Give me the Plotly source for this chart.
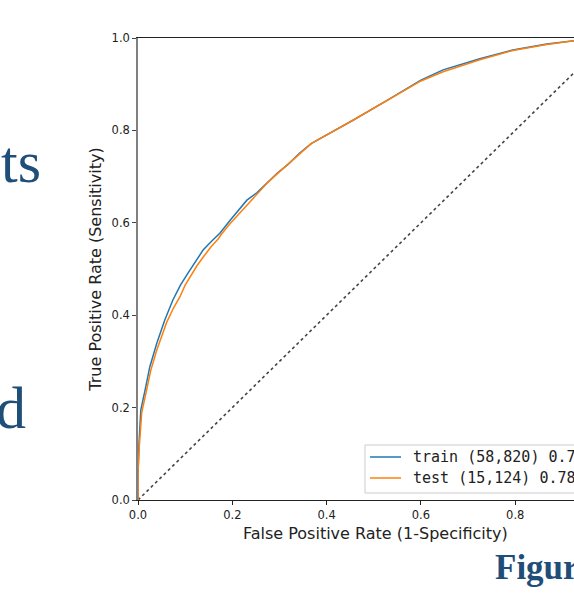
import plotly.graph_objects as go

# ROC data
train_fpr = [0, 0.0, 0.002, 0.006, 0.015, 0.025, 0.040, 0.057, 0.074, 0.090, 0.106, 0.122,
             0.138, 0.156, 0.174, 0.195, 0.216, 0.231, 0.252, 0.275, 0.295, 0.320, 0.343,
             0.368, 0.456, 0.530, 0.60, 0.647, 0.70, 0.725, 0.795, 0.867, 0.925, 1.0]
train_tpr = [0, 0.05, 0.12, 0.195, 0.238, 0.288, 0.34, 0.39, 0.433, 0.465, 0.491, 0.517,
             0.541, 0.56, 0.578, 0.605, 0.632, 0.649, 0.665, 0.688, 0.707, 0.728, 0.751,
             0.772, 0.822, 0.866, 0.909, 0.931, 0.948, 0.955, 0.974, 0.987, 0.994, 1.0]
test_fpr = [0, 0.0, 0.003, 0.008, 0.017, 0.027, 0.040, 0.061, 0.075, 0.089, 0.100, 0.110,
            0.125, 0.140, 0.155, 0.170, 0.176, 0.195, 0.216, 0.235, 0.252, 0.275, 0.295,
            0.320, 0.343, 0.368, 0.456, 0.530, 0.60, 0.647, 0.725, 0.795, 0.867, 0.925, 1.0]
test_tpr = [0, 0.06, 0.12, 0.19, 0.232, 0.28, 0.325, 0.385, 0.415, 0.44, 0.465, 0.483,
            0.507, 0.528, 0.548, 0.565, 0.574, 0.598, 0.622, 0.643, 0.661, 0.687, 0.706,
            0.728, 0.75, 0.772, 0.822, 0.866, 0.907, 0.927, 0.953, 0.973, 0.986, 0.994, 1.0]
chance_x = [0, 1]
chance_y = [0, 1]

train_label = "train (58,820) 0.784"
test_label = "test (15,124) 0.780"
x_ticks = [0.0, 0.2, 0.4, 0.6, 0.8, 1.0]
y_ticks = [0.0, 0.2, 0.4, 0.6, 0.8, 1.0]
x_title = "False Positive Rate (1-Specificity)"
y_title = "True Positive Rate (Sensitivity)"

W, H = 574, 612
L, T, B = 138, 38, 112
PW = W - L          # visible plot width
FULLW = 471.5       # pixel width of the full 0..1 x-range
PH = H - T - B

def px(xp):
    return (xp - L) / PW

def py(yp):
    return (T + PH - yp) / PH

BLUE, ORANGE = "#1f77b4", "#ff7f0e"

fig = go.Figure()
fig.add_trace(go.Scatter(x=chance_x, y=chance_y, mode="lines", showlegend=False,
                         line=dict(color="#444444", width=1.6, dash="dot")))
fig.add_trace(go.Scatter(x=train_fpr, y=train_tpr, mode="lines", name=train_label,
                         showlegend=False, line=dict(color=BLUE, width=1.5)))
fig.add_trace(go.Scatter(x=test_fpr, y=test_tpr, mode="lines", name=test_label,
                         showlegend=False, line=dict(color=ORANGE, width=1.5)))

tick_font = dict(family="DejaVu Sans", size=11.5, color="#222222")
title_font = dict(family="DejaVu Sans", size=16, color="#222222")
serif_blue = "#1f4e79"

fig.update_layout(
    width=W, height=H,
    margin=dict(l=L, r=0, t=T, b=B, pad=0),
    paper_bgcolor="white", plot_bgcolor="white",
    showlegend=False,
    xaxis=dict(range=[0, PW / FULLW], tickvals=x_ticks,
               ticktext=[f"{v:.1f}" for v in x_ticks],
               showgrid=False, zeroline=False, showline=True, linecolor="#222222",
               linewidth=1.2, mirror=True, ticks="outside", ticklen=4, tickcolor="#222222",
               tickfont=tick_font),
    yaxis=dict(range=[0, 1], tickvals=y_ticks, ticktext=[f"{v:.1f}" for v in y_ticks],
               showgrid=False, zeroline=False, showline=True, linecolor="#808080",
               linewidth=1.6, ticks="outside", ticklen=4, tickcolor="#444444",
               tickfont=tick_font,
               title=dict(text=y_title, font=title_font, standoff=6)),
)

# legend box drawn by hand (it runs past the right edge, as in the reference)
fig.add_shape(type="rect", xref="paper", yref="paper", x0=px(365), x1=px(620),
              y0=py(493), y1=py(445), line=dict(color="#cccccc", width=1),
              fillcolor="white", layer="above")
for name, color, yy in [(train_label, BLUE, 457), (test_label, ORANGE, 478)]:
    fig.add_shape(type="line", xref="paper", yref="paper", x0=px(370), x1=px(401),
                  y0=py(yy), y1=py(yy), line=dict(color=color, width=1.5), layer="above")
    fig.add_annotation(x=px(411), y=py(yy), xref="paper", yref="paper", text=name,
                       showarrow=False, xanchor="left", yanchor="middle",
                       font=dict(family="DejaVu Sans Mono", size=15, color="#222222"))

fig.add_annotation(x=px(375), y=py(533), xref="paper", yref="paper",
                   text=x_title, showarrow=False, xanchor="center", yanchor="middle",
                   font=title_font)

fig.add_annotation(x=px(43), y=py(162), xref="paper", yref="paper", text="ts",
                   showarrow=False, xanchor="right", yanchor="middle",
                   font=dict(family="Liberation Serif", size=60, color=serif_blue))
fig.add_annotation(x=px(28), y=py(408), xref="paper", yref="paper", text="d",
                   showarrow=False, xanchor="right", yanchor="middle",
                   font=dict(family="Liberation Serif", size=60, color=serif_blue))
fig.add_annotation(x=px(493), y=py(567), xref="paper", yref="paper", text="<b>Figure</b>",
                   showarrow=False, xanchor="left", yanchor="middle",
                   font=dict(family="Liberation Serif", size=35, color=serif_blue))

fig.write_html("out.html")
